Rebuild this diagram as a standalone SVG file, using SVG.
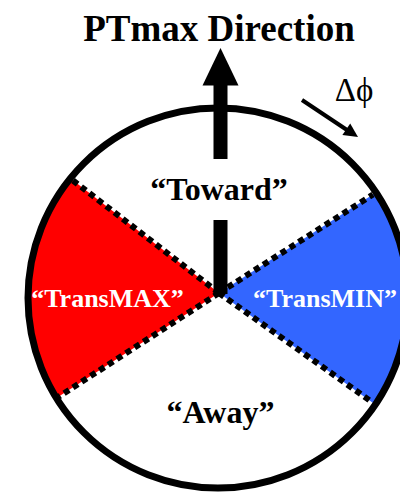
<svg xmlns="http://www.w3.org/2000/svg" width="400" height="494" viewBox="0 0 400 494">
<style>
.t{font-family:"Liberation Serif","Times New Roman",serif;font-weight:bold;text-anchor:middle}
.div{stroke:#000;stroke-width:6;stroke-dasharray:6 4.5;fill:none}
</style>
<rect width="400" height="494" fill="#fff"/>
<g id="sector-transmax">
<path d="M219,293 L70.3,178.3 A190,190 0 0 0 56.5,398 Z" fill="#ff0000"/>
</g>
<g id="sector-transmin">
<path d="M219,293 L376,192.5 A190,190 0 0 1 375.2,404.6 Z" fill="#3366ff"/>
</g>
<g id="dividers">
<line class="div" x1="219" y1="293" x2="73" y2="180.5"/>
<line class="div" x1="219" y1="293" x2="59" y2="396.5"/>
<line class="div" x1="219" y1="293" x2="373" y2="194.5"/>
<line class="div" x1="219" y1="293" x2="372.5" y2="402.5"/>
</g>
<g id="circle">
<circle cx="218" cy="298" r="190" fill="none" stroke="#000" stroke-width="7"/>
</g>
<g id="title"><text class="t" x="219" y="41" font-size="37">PTmax Direction</text></g>
<g id="toward"><text class="t" x="219" y="200" font-size="32">“Toward”</text></g>
<g id="transmax"><text class="t" x="107.5" y="307" font-size="26" fill="#fff">“TransMAX”</text></g>
<g id="transmin"><text class="t" x="253" y="307" font-size="26" fill="#fff" style="text-anchor:start">“TransMIN”</text></g>
<g id="away"><text class="t" x="220.5" y="423" font-size="32">“Away”</text></g>
<g id="dphi"><text x="354" y="101" font-size="33" font-family="'Liberation Serif','Times New Roman',serif" text-anchor="middle">Δϕ</text></g>
<g id="connectors">
<rect x="213.5" y="84" width="14" height="75" fill="#000"/>
<polygon points="202.5,85.5 238.5,85.5 220.5,48" fill="#000"/>
<rect x="213.5" y="220" width="14" height="74" fill="#000"/>
<line x1="302" y1="100" x2="347" y2="130" stroke="#000" stroke-width="4"/>
<polygon points="358,137 342.4,135.1 350.2,123.5" fill="#000"/>
</g>
</svg>
